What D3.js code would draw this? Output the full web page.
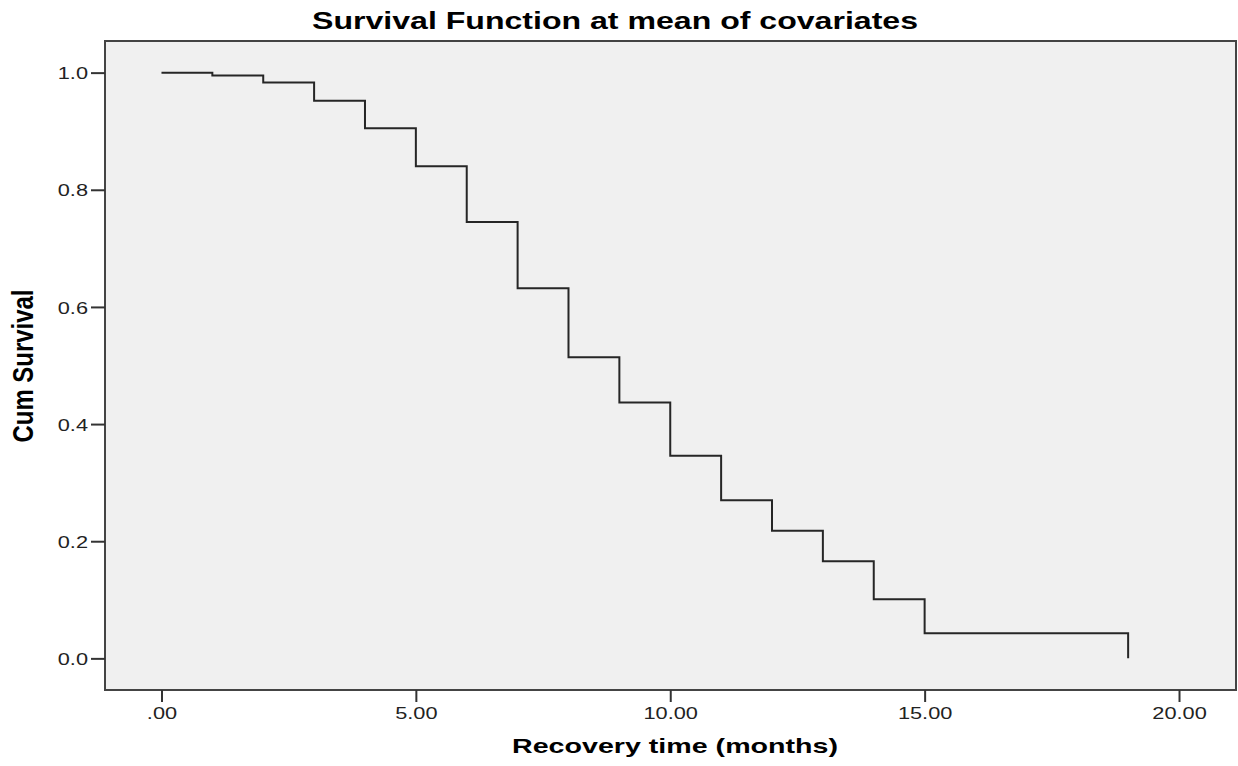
<!DOCTYPE html>
<html>
<head>
<meta charset="utf-8">
<script src="https://cdn.jsdelivr.net/npm/d3@7"></script>
<style>
  body { margin: 0; background: #fff; }
  text { font-family: "Liberation Sans", Arial, sans-serif; }
</style>
</head>
<body>
<div id="chart"></div>
<script>
var svgWidth = 1238;
var svgHeight = 766;

// frame of the plot area
var frame = { left: 105, right: 1236, top: 41, bottom: 690 };

// survival data
var times = [0, 1, 2, 3, 4, 5, 6, 7, 8, 9, 10, 11, 12, 13, 14, 15, 19];
var survival = [1.0, 0.995, 0.983, 0.952, 0.905, 0.840, 0.745, 0.632, 0.514,
                0.437, 0.346, 0.270, 0.218, 0.166, 0.101, 0.043, 0.0];

var xTickValues = [0, 5, 10, 15, 20];
var xTickLabels = [".00", "5.00", "10.00", "15.00", "20.00"];
var yTickValues = [0, 0.2, 0.4, 0.6, 0.8, 1.0];
var yTickLabels = ["0.0", "0.2", "0.4", "0.6", "0.8", "1.0"];

var textStretch = 1.28;

var svg = d3.select("#chart")
  .append("svg")
  .attr("width", svgWidth)
  .attr("height", svgHeight);

var x = d3.scaleLinear()
  .domain([-1.11, 21.12])
  .range([frame.left, frame.right]);

var y = d3.scaleLinear()
  .domain([-0.054, 1.054])
  .range([frame.bottom, frame.top]);

// plot background
svg.append("rect")
  .attr("x", frame.left)
  .attr("y", frame.top)
  .attr("width", frame.right - frame.left)
  .attr("height", frame.bottom - frame.top)
  .attr("fill", "#f0f0f0");

// step curve
var points = times.map((t, i) => [t, survival[i]]);
var stepLine = d3.line()
  .x(d => x(d[0]))
  .y(d => y(d[1]))
  .curve(d3.curveStepAfter);

svg.append("path")
  .datum(points)
  .attr("d", stepLine)
  .attr("fill", "none")
  .attr("stroke", "#262626")
  .attr("stroke-width", 2);

// frame border on top
svg.append("rect")
  .attr("x", frame.left)
  .attr("y", frame.top)
  .attr("width", frame.right - frame.left)
  .attr("height", frame.bottom - frame.top)
  .attr("fill", "none")
  .attr("stroke", "#444")
  .attr("stroke-width", 2);

// x axis
var xAxis = svg.append("g")
  .attr("transform", `translate(0, ${frame.bottom})`)
  .call(d3.axisBottom(x)
    .tickValues(xTickValues)
    .tickSize(12)
    .tickFormat((d, i) => xTickLabels[i]));

xAxis.select(".domain").remove();
xAxis.selectAll(".tick line")
  .attr("stroke", "#333")
  .attr("stroke-width", 2);
xAxis.selectAll(".tick text")
  .attr("y", 29)
  .attr("dy", null)
  .attr("fill", "#222")
  .attr("font-size", 17)
  .attr("transform", `scale(${textStretch},1)`);

// y axis
var yAxis = svg.append("g")
  .attr("transform", `translate(${frame.left}, 0)`)
  .call(d3.axisLeft(y)
    .tickValues(yTickValues)
    .tickSize(14)
    .tickFormat((d, i) => yTickLabels[i]));

yAxis.select(".domain").remove();
yAxis.selectAll(".tick line")
  .attr("stroke", "#333")
  .attr("stroke-width", 2);
yAxis.selectAll(".tick text")
  .attr("x", -13.3)
  .attr("dy", "0.36em")
  .attr("fill", "#222")
  .attr("font-size", 17)
  .attr("transform", `scale(${textStretch},1)`);

// title
svg.append("text")
  .attr("x", 615)
  .attr("y", 29)
  .attr("text-anchor", "middle")
  .attr("font-size", 24)
  .attr("font-weight", "bold")
  .attr("textLength", 606)
  .attr("lengthAdjust", "spacingAndGlyphs")
  .text("Survival Function at mean of covariates");

// x label
svg.append("text")
  .attr("x", 675)
  .attr("y", 753)
  .attr("text-anchor", "middle")
  .attr("font-size", 21)
  .attr("font-weight", "bold")
  .attr("textLength", 326)
  .attr("lengthAdjust", "spacingAndGlyphs")
  .text("Recovery time (months)");

// y label
svg.append("text")
  .attr("transform", `translate(33, 366) scale(${textStretch},1) rotate(-90)`)
  .attr("text-anchor", "middle")
  .attr("font-size", 23)
  .attr("font-weight", "bold")
  .attr("textLength", 153)
  .attr("lengthAdjust", "spacingAndGlyphs")
  .text("Cum Survival");
</script>
</body>
</html>
